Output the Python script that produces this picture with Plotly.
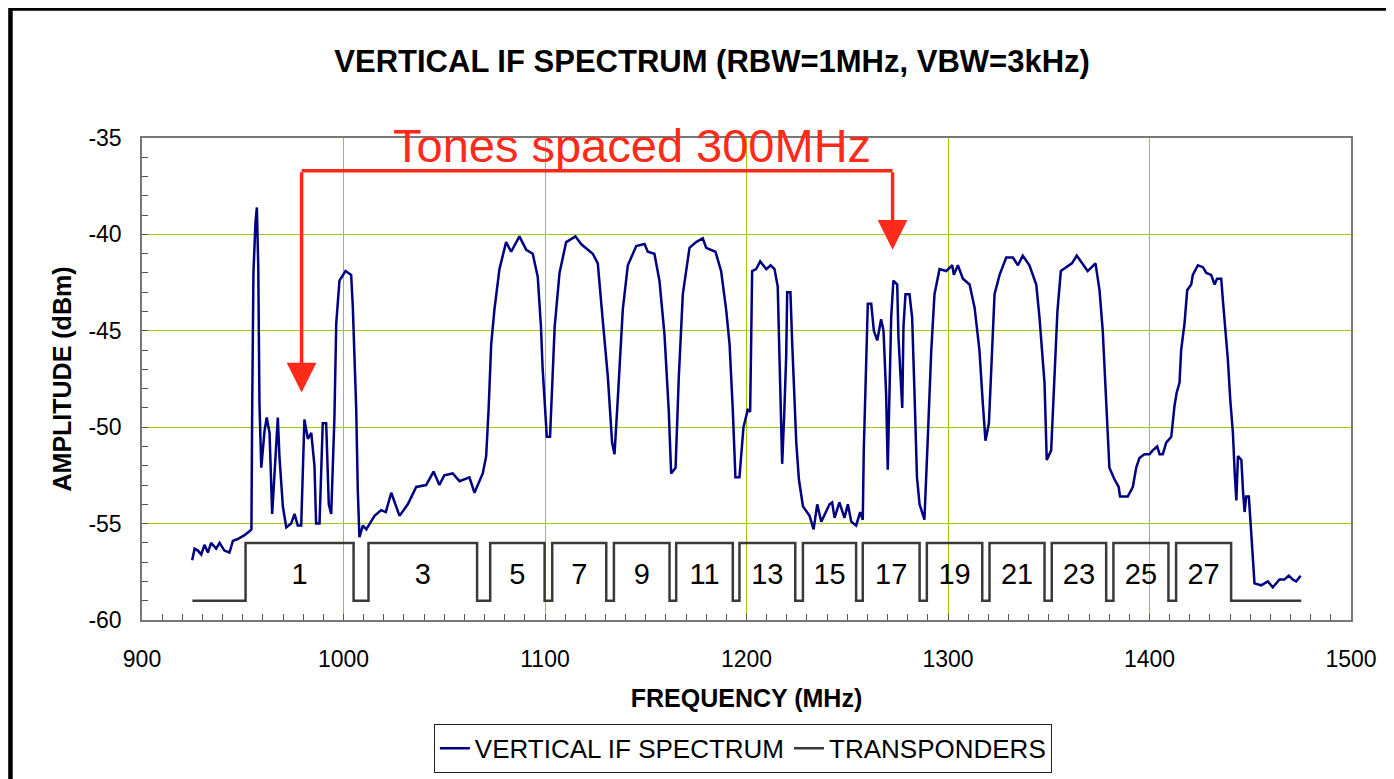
import plotly.graph_objects as go

# spectrum analyser trace (MHz, dBm)
freq = [
    924.9, 926.1, 927.7, 929.4, 931.0, 932.7, 934.3, 936.8, 938.5, 940.9, 943.4, 945.1,
    947.5, 950.9, 953.3, 954.3, 954.7, 955.3, 956.3, 957.0, 957.7, 958.3, 959.2, 960.8,
    961.9, 963.3, 964.6, 965.8, 967.4, 968.2, 969.9, 971.6, 974.0, 975.7, 977.3, 979.0,
    980.6, 982.3, 984.0, 985.6, 986.4, 988.1, 989.7, 991.4, 992.7, 993.9, 995.5, 996.4,
    998.0, 1001.0, 1003.8, 1004.6, 1006.3, 1007.1, 1007.9, 1009.6, 1011.3, 1015.4, 1018.7,
    1021.0, 1023.7, 1027.8, 1031.9, 1036.1, 1041.0, 1044.7, 1047.6, 1050.0, 1054.2, 1057.6,
    1062.5, 1065.0, 1069.1, 1070.8, 1072.0, 1073.3, 1074.9, 1077.4, 1080.7, 1083.2, 1087.3,
    1090.7, 1093.9, 1096.4, 1098.0, 1098.8, 1100.9, 1102.5, 1103.6, 1104.8, 1107.2, 1110.5,
    1115.1, 1117.9, 1123.7, 1126.2, 1128.7, 1131.2, 1133.3, 1134.5, 1136.2, 1138.6, 1141.1,
    1145.3, 1149.4, 1151.0, 1154.3, 1156.8, 1159.3, 1161.4, 1162.6, 1164.8, 1166.4, 1168.4,
    1171.7, 1175.0, 1178.3, 1180.0, 1184.6, 1187.4, 1189.9, 1191.6, 1193.2, 1194.5, 1196.5,
    1198.5, 1200.6, 1201.8, 1202.3, 1202.8, 1204.8, 1206.8, 1209.8, 1212.0, 1213.9, 1215.5,
    1216.4, 1217.7, 1218.7, 1219.7, 1220.2, 1221.8, 1222.7, 1224.7, 1226.0, 1228.0, 1231.3,
    1233.3, 1235.1, 1237.1, 1241.2, 1242.5, 1243.7, 1246.1, 1248.6, 1250.3, 1252.0, 1254.4,
    1256.4, 1257.7, 1258.2, 1259.0, 1259.7, 1260.2, 1261.9, 1263.2, 1264.9, 1266.8, 1268.0,
    1269.3, 1270.1, 1270.9, 1271.8, 1272.9, 1274.8, 1275.4, 1276.4, 1277.3, 1277.9, 1278.9,
    1280.9, 1282.2, 1283.4, 1284.6, 1285.9, 1288.3, 1290.0, 1291.7, 1293.3, 1295.8, 1299.1,
    1302.1, 1302.9, 1304.9, 1307.4, 1310.7, 1313.2, 1315.6, 1317.3, 1318.6, 1320.3, 1322.0,
    1323.1, 1325.6, 1328.9, 1332.2, 1334.7, 1337.1, 1340.4, 1343.8, 1345.4, 1347.9, 1349.0,
    1351.2, 1352.8, 1354.3, 1356.0, 1358.6, 1361.5, 1363.9, 1366.0, 1369.3, 1373.2, 1375.2,
    1376.8, 1378.0, 1379.3, 1380.1, 1382.6, 1384.7, 1385.4, 1389.2, 1391.7, 1393.4, 1395.0,
    1397.5, 1400.0, 1401.6, 1403.8, 1405.0, 1406.6, 1408.3, 1410.8, 1412.4, 1413.5, 1414.9,
    1415.7, 1417.4, 1418.7, 1420.7, 1421.5, 1424.0, 1426.5, 1428.2, 1430.6, 1432.3, 1433.5,
    1435.6, 1436.4, 1438.1, 1438.9, 1440.1, 1441.4, 1442.3, 1443.1, 1443.9, 1445.6, 1446.4,
    1447.2, 1448.0, 1449.3, 1450.5, 1451.3, 1452.1, 1455.4, 1458.7, 1461.2, 1464.5, 1467.0,
    1469.1, 1471.1, 1472.8, 1475.0,
]
amplitude = [
    -56.9, -56.3, -56.4, -56.6, -56.1, -56.5, -56.0, -56.3, -56.0, -56.4, -56.5, -55.9,
    -55.8, -55.6, -55.4, -55.3, -48.8, -42.0, -39.4, -38.6, -41.7, -48.8, -52.1, -50.2,
    -49.5, -50.3, -54.5, -52.4, -49.5, -51.5, -54.1, -55.2, -55.0, -54.5, -55.1, -55.1,
    -49.6, -50.6, -50.3, -52.0, -55.0, -55.0, -49.8, -49.8, -54.0, -54.5, -49.5, -44.6,
    -42.4, -41.9, -42.1, -43.7, -49.0, -53.3, -55.7, -55.1, -55.3, -54.6, -54.3,
    -54.4, -53.4, -54.6, -54.0, -53.1, -53.0, -52.3, -53.0, -52.5, -52.4, -52.8,
    -52.6, -53.4, -52.4, -51.5, -49.1, -45.7, -43.9, -41.8, -40.4, -40.9, -40.1,
    -40.8, -41.0, -42.2, -44.8, -46.9, -50.5, -50.5, -47.4, -44.8, -42.0, -40.4,
    -40.1, -40.5, -41.0, -41.5, -44.5, -47.4, -50.8, -51.4, -48.4, -43.9, -41.6,
    -40.6, -40.5, -40.9, -41.0, -42.4, -45.2, -49.1, -52.4, -52.1, -47.4, -43.1,
    -40.7, -40.4, -40.2, -40.7, -40.9, -41.9, -43.9, -45.7, -49.1, -52.6, -52.6,
    -50.0, -49.1, -49.2, -45.7, -41.9, -41.8, -41.4, -41.8, -41.6, -41.8, -42.7,
    -46.5, -51.9, -49.4, -46.3, -43.0, -43.0, -45.7, -50.8, -52.7, -54.1, -54.6,
    -55.3, -54.0, -54.9, -54.0, -53.9, -54.7, -53.9, -54.7, -54.0, -54.9, -55.1,
    -54.4, -54.8, -51.2, -47.7, -45.7, -43.6, -43.6, -45.0, -45.5, -44.4, -45.0,
    -48.3, -52.2, -48.2, -44.3, -42.4, -42.6, -45.3, -47.0, -49.0, -44.8, -43.1,
    -43.1, -44.3, -48.3, -52.6, -54.0, -54.8, -50.5, -46.0, -43.1, -41.8, -41.9,
    -41.6, -42.1, -41.6, -42.3, -42.6, -43.8, -46.0, -48.8, -50.7, -49.8, -46.0,
    -43.1, -42.1, -41.2, -41.2, -41.6, -41.1, -41.6, -42.6, -44.3, -47.7, -51.7,
    -51.2, -47.4, -44.0, -41.9, -41.7, -41.5, -41.1, -41.4, -41.9, -41.5, -42.9,
    -45.0, -47.7, -50.0, -52.1, -52.7, -53.1, -53.6, -53.6, -53.1, -52.1, -51.6,
    -51.4, -51.4, -51.2, -51.0, -51.4, -51.4, -50.8, -50.5, -48.9, -48.2, -47.7,
    -46.0, -44.6, -42.9, -42.6, -42.1, -41.6, -41.7, -42.0, -42.1, -42.6, -42.3,
    -42.3, -43.4, -45.3, -46.5, -48.6, -50.3, -52.4, -53.8, -51.5, -51.7, -53.3,
    -54.4, -53.6, -53.6, -55.5, -56.9, -58.1, -58.2, -58.0, -58.3, -57.9, -57.9,
    -57.7, -57.9, -58.0, -57.7,
]

# transponder plan: step edges (MHz) and level after each edge (dBm)
tp_edges = [
    925.0, 951.4, 1005.0, 1012.4, 1066.3, 1072.8, 1099.8, 1103.6, 1130.4, 1134.2,
    1161.8, 1165.1, 1193.2, 1196.5, 1224.2, 1228.0, 1254.4, 1257.7, 1285.9, 1289.5,
    1317.0, 1320.6, 1347.9, 1351.5, 1378.5, 1382.1, 1409.4, 1413.2, 1440.5, 1475.3,
]
tp_level = [
    -59, -56, -59, -56, -59, -56, -59, -56, -59, -56,
    -59, -56, -59, -56, -59, -56, -59, -56, -59, -56,
    -59, -56, -59, -56, -59, -56, -59, -56, -59, -59,
]
channels = ["1", "3", "5", "7", "9", "11", "13", "15", "17", "19", "21", "23", "25", "27"]

# y tick labels use a plain hyphen, like the original
y_ticks = [-60, -55, -50, -45, -40, -35]
y_tick_text = ["-60", "-55", "-50", "-45", "-40", "-35"]

FONT = "Liberation Sans, Arial, sans-serif"
GRID = "#99cc00"
RED = "#ff2a1a"

# label sits in the middle of each "high" block of the step trace
label_x = [(tp_edges[i] + tp_edges[i + 1]) / 2 for i in range(1, len(tp_edges) - 1, 2)]

fig = go.Figure()
fig.add_trace(go.Scatter(
    x=freq, y=amplitude, mode="lines", name="VERTICAL IF SPECTRUM",
    line=dict(color="#000080", width=2.5),
))
fig.add_trace(go.Scatter(
    x=tp_edges, y=tp_level, mode="lines", name="TRANSPONDERS",
    line=dict(color="#3a3a3a", width=2.5, shape="hv"),
))
fig.add_trace(go.Scatter(
    x=label_x, y=[-57.75] * len(label_x), mode="text", text=channels,
    textfont=dict(family=FONT, size=29, color="black"),
    showlegend=False, hoverinfo="skip",
))

# the red bracket marking the 300 MHz tone spacing
tone_a, tone_b, bar_y = 979.2, 1272.5, -36.7
fig.add_shape(type="line", x0=tone_a, x1=tone_b, y0=bar_y, y1=bar_y,
              xref="x", yref="y", line=dict(color=RED, width=3.5))
for tx, ty in [(tone_a, -48.2), (tone_b, -40.8)]:
    fig.add_annotation(
        x=tx, y=ty, ax=tx, ay=bar_y, xref="x", yref="y", axref="x", ayref="y",
        text="", showarrow=True, arrowhead=2, arrowsize=1.7, arrowwidth=3.5,
        arrowcolor=RED, standoff=0,
    )
fig.add_annotation(
    x=1143, y=-35.4, xref="x", yref="y", text="Tones spaced 300MHz", showarrow=False,
    font=dict(family=FONT, size=47, color=RED),
)

# black slide frame along the top and left edges
fig.add_shape(type="path", xref="paper", yref="paper",
              path="M -0.1088,-0.5 L -0.1088,1.2687 L 1.2,1.2687",
              line=dict(color="black", width=4.5))

# page body keeps an 8px margin, so the figure is 8px smaller than the window
fig.update_layout(
    width=1386, height=771,
    margin=dict(l=134, r=43, t=130, b=159, autoexpand=False),
    paper_bgcolor="white", plot_bgcolor="white",
    font=dict(family=FONT, color="black"),
    title=dict(
        text="<b>VERTICAL IF SPECTRUM (RBW=1MHz, VBW=3kHz)</b>",
        x=0.508, xanchor="center", y=0.931, yanchor="middle",
        font=dict(size=31, family=FONT, color="black"),
    ),
    legend=dict(
        orientation="h", x=0.497, xanchor="center",
        yref="container", y=0.008, yanchor="bottom",
        bordercolor="#222222", borderwidth=1, font=dict(size=26, family=FONT),
        bgcolor="white", itemwidth=30,
    ),
)
fig.update_xaxes(
    range=[900, 1500], dtick=100, showgrid=True, gridcolor=GRID, gridwidth=1,
    showline=True, linecolor="#777777", linewidth=1.5, mirror=True,
    ticks="inside", ticklen=6, tickcolor="#555555",
    minor=dict(dtick=10, ticks="inside", ticklen=6, tickcolor="#555555", showgrid=False),
    tickfont=dict(size=23, family=FONT), ticklabelstandoff=18,
    title=dict(text="<b>FREQUENCY (MHz)</b>", font=dict(size=25, family=FONT), standoff=18),
    zeroline=False, automargin=False,
)
fig.update_yaxes(
    range=[-60, -35], tickvals=y_ticks, ticktext=y_tick_text,
    showgrid=True, gridcolor=GRID, gridwidth=1,
    showline=True, linecolor="#777777", linewidth=1.5, mirror=True,
    ticks="inside", ticklen=6, tickcolor="#555555",
    minor=dict(dtick=1, ticks="inside", ticklen=6, tickcolor="#555555", showgrid=False),
    tickfont=dict(size=23, family=FONT), ticklabelstandoff=14,
    title=dict(text="<b>AMPLITUDE (dBm)</b>", font=dict(size=25, family=FONT), standoff=10),
    zeroline=False, automargin=False,
)

fig.write_html("out.html")
